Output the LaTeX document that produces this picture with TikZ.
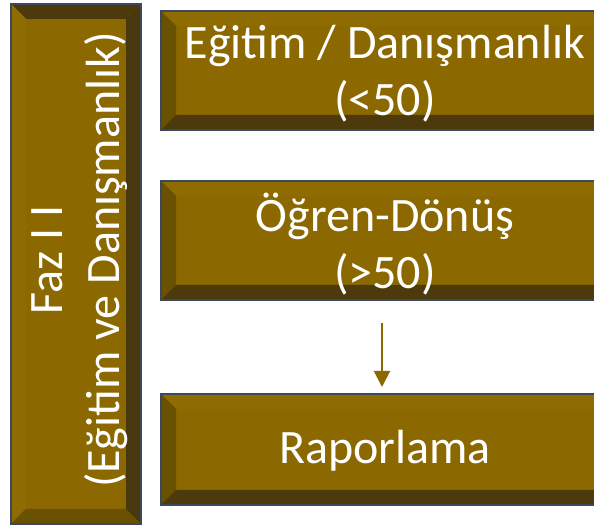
\documentclass[tikz,border=0pt]{standalone}
\usepackage{fontspec}
\setmainfont{Carlito}
\usetikzlibrary{calc,arrows.meta}
\definecolor{face}{RGB}{139,104,0}
\definecolor{bevlight}{RGB}{142,108,2}
\definecolor{bevmid}{RGB}{106,81,0}
\definecolor{bevdark}{RGB}{76,58,12}
\definecolor{bevdarker}{RGB}{72,56,14}
\definecolor{edge}{RGB}{60,72,92}
% #1 node, #2 top, #3 left, #4 bottom, #5 right
\newcommand\bevelit[5]{%
  \fill[#2] (#1.north west) -- (#1.north east) -- ($(#1.north east)+(-15,-15)$) -- ($(#1.north west)+(15,-15)$) -- cycle;
  \fill[#3] (#1.north west) -- ($(#1.north west)+(15,-15)$) -- ($(#1.south west)+(15,15)$) -- (#1.south west) -- cycle;
  \fill[#4] (#1.south west) -- ($(#1.south west)+(15,15)$) -- ($(#1.south east)+(-15,15)$) -- (#1.south east) -- cycle;
  \fill[#5] (#1.south east) -- ($(#1.south east)+(-15,15)$) -- ($(#1.north east)+(-15,-15)$) -- (#1.north east) -- cycle;
  \draw[edge,line width=1.2pt] (#1.north west) rectangle (#1.south east);
}
\begin{document}
\begin{tikzpicture}[x=1pt,y=1pt,
  boxface/.style={fill=face,inner sep=0pt,outer sep=0pt,anchor=south west},
  boxtext/.style={text=white,align=center,font=\fontsize{48}{57}\selectfont,inner sep=0pt},
  flowarrow/.style={draw=face,line width=2pt,-{Triangle[length=16pt,width=16pt]}}]
\useasboundingbox (0,0) rectangle (594,526);
\clip (0,0) rectangle (594,526);
% left phase box
\node[boxface,minimum width=130,minimum height=520] (phase) at (11,2) {};
\bevelit{phase}{bevdark}{bevlight}{bevmid}{bevdarker}
\node[boxtext,rotate=90] (phasetxt) at (80,266) {Faz I I\\(Eğitim ve Danışmanlık)};
% right boxes
\node[boxface,minimum width=450,minimum height=119] (b1) at (161,396) {};
\bevelit{b1}{bevlight}{bevmid}{bevdark}{bevdarker}
\node[boxtext] (t1) at (385,452) {Eğitim / Danışmanlık\\(<50)};
\node[boxface,minimum width=450,minimum height=119] (b2) at (161,226) {};
\bevelit{b2}{bevlight}{bevmid}{bevdark}{bevdarker}
\node[boxtext] (t2) at (385,282) {Öğren-Dönüş\\(>50)};
\node[boxface,minimum width=450,minimum height=111] (b3) at (161,21) {};
\bevelit{b3}{bevlight}{bevmid}{bevdark}{bevdarker}
\node[boxtext] (t3) at (385,75) {Raporlama};
% arrow
\draw[flowarrow] ($(b2.south)+(-4,-23)$) coordinate (a0) -- ($(b3.north)+(-4,7)$) coordinate (a1);
\end{tikzpicture}
\end{document}
